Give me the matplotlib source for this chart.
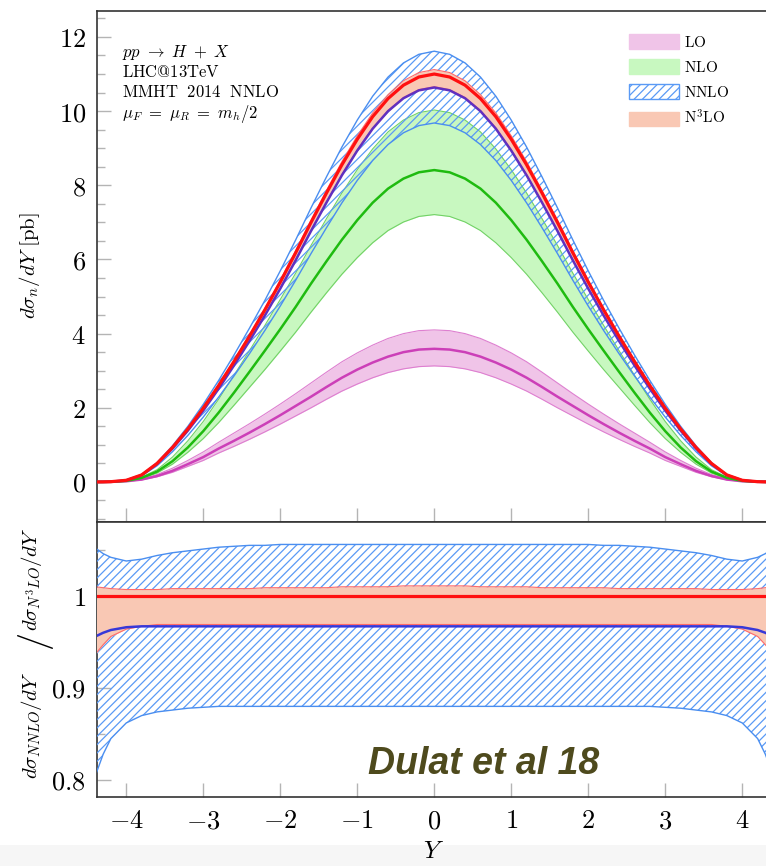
import numpy as np
import matplotlib
matplotlib.use("Agg")
import matplotlib.pyplot as plt
from matplotlib.patches import Patch, Rectangle
from matplotlib.ticker import MultipleLocator

plt.rcParams["mathtext.fontset"] = "cm"
plt.rcParams["font.family"] = "DejaVu Serif"
plt.rcParams["hatch.linewidth"] = 0.9

# ---------------------------------------------------------------- data
# Higgs rapidity
Y = [-4.4, -4.3, -4.2, -4.0, -3.8, -3.6, -3.4, -3.2, -3.0, -2.8, -2.6, -2.4,
     -2.2, -2.0, -1.8, -1.6, -1.4, -1.2, -1.0, -0.8, -0.6, -0.4, -0.2, 0.0,
     0.2, 0.4, 0.6, 0.8, 1.0, 1.2, 1.4, 1.6, 1.8, 2.0, 2.2, 2.4, 2.6, 2.8,
     3.0, 3.2, 3.4, 3.6, 3.8, 4.0, 4.2, 4.3, 4.4]

# dsigma/dY [pb]
lo_central = [0.0, 0.001, 0.003, 0.018, 0.065, 0.16, 0.30, 0.48, 0.67, 0.90, 1.11, 1.33,
              1.56, 1.80, 2.05, 2.30, 2.56, 2.81, 3.03, 3.22, 3.38, 3.50, 3.57, 3.59,
              3.57, 3.50, 3.38, 3.22, 3.03, 2.81, 2.56, 2.30, 2.05, 1.80, 1.56, 1.33,
              1.11, 0.90, 0.67, 0.48, 0.30, 0.16, 0.065, 0.018, 0.003, 0.001, 0.0]
lo_high = [0.0, 0.001, 0.004, 0.022, 0.08, 0.20, 0.37, 0.58, 0.81, 1.07, 1.32, 1.57,
           1.83, 2.10, 2.38, 2.67, 2.96, 3.24, 3.48, 3.69, 3.87, 4.00, 4.08, 4.10,
           4.08, 4.00, 3.87, 3.69, 3.48, 3.24, 2.96, 2.67, 2.38, 2.10, 1.83, 1.57,
           1.32, 1.07, 0.81, 0.58, 0.37, 0.20, 0.08, 0.022, 0.004, 0.001, 0.0]
lo_low = [0.0, 0.001, 0.003, 0.016, 0.056, 0.14, 0.26, 0.42, 0.58, 0.78, 0.96, 1.15,
          1.35, 1.56, 1.78, 2.00, 2.23, 2.45, 2.64, 2.81, 2.95, 3.05, 3.11, 3.13,
          3.11, 3.05, 2.95, 2.81, 2.64, 2.45, 2.23, 2.00, 1.78, 1.56, 1.35, 1.15,
          0.96, 0.78, 0.58, 0.42, 0.26, 0.14, 0.056, 0.016, 0.003, 0.001, 0.0]

nlo_central = [0.0, 0.002, 0.006, 0.03, 0.11, 0.28, 0.56, 0.93, 1.37, 1.87, 2.41, 2.97,
               3.54, 4.12, 4.72, 5.35, 5.95, 6.53, 7.06, 7.53, 7.91, 8.18, 8.35, 8.41,
               8.35, 8.18, 7.91, 7.53, 7.06, 6.53, 5.95, 5.35, 4.72, 4.12, 3.54, 2.97,
               2.41, 1.87, 1.37, 0.93, 0.56, 0.28, 0.11, 0.03, 0.006, 0.002, 0.0]
nlo_high = [0.0, 0.002, 0.007, 0.036, 0.13, 0.33, 0.67, 1.11, 1.63, 2.23, 2.88, 3.54,
            4.22, 4.92, 5.63, 6.38, 7.10, 7.79, 8.42, 8.98, 9.44, 9.76, 9.96, 10.03,
            9.96, 9.76, 9.44, 8.98, 8.42, 7.79, 7.10, 6.38, 5.63, 4.92, 4.22, 3.54,
            2.88, 2.23, 1.63, 1.11, 0.67, 0.33, 0.13, 0.036, 0.007, 0.002, 0.0]
nlo_low = [0.0, 0.002, 0.005, 0.026, 0.094, 0.24, 0.48, 0.80, 1.17, 1.60, 2.07, 2.55,
           3.03, 3.53, 4.04, 4.58, 5.10, 5.60, 6.05, 6.45, 6.78, 7.01, 7.16, 7.21,
           7.16, 7.01, 6.78, 6.45, 6.05, 5.60, 5.10, 4.58, 4.04, 3.53, 3.03, 2.55,
           2.07, 1.60, 1.17, 0.80, 0.48, 0.24, 0.094, 0.026, 0.005, 0.002, 0.0]

n3lo_central = [0.0, 0.002, 0.007, 0.045, 0.19, 0.50, 0.93, 1.43, 1.99, 2.60, 3.25, 3.93,
                4.64, 5.39, 6.18, 7.00, 7.79, 8.55, 9.24, 9.85, 10.34, 10.70, 10.92, 11.00,
                10.92, 10.70, 10.34, 9.85, 9.24, 8.55, 7.79, 7.00, 6.18, 5.39, 4.64, 3.93,
                3.25, 2.60, 1.99, 1.43, 0.93, 0.50, 0.19, 0.045, 0.007, 0.002, 0.0]

# ratios to the central N3LO prediction
nnlo_ratio_high = ([1.052, 1.046, 1.042, 1.038, 1.040, 1.044, 1.047, 1.049, 1.051, 1.053, 1.054, 1.055, 1.055]
                   + [1.056] * 21
                   + [1.055, 1.055, 1.054, 1.053, 1.051, 1.049, 1.047, 1.044, 1.040, 1.038, 1.042, 1.046, 1.052])
nnlo_ratio_central = ([0.956, 0.960, 0.963, 0.966]
                      + [0.967] * 39
                      + [0.966, 0.963, 0.960, 0.956])
nnlo_ratio_low = ([0.805, 0.828, 0.845, 0.862, 0.870, 0.874, 0.876, 0.878, 0.879]
                  + [0.880] * 29
                  + [0.879, 0.878, 0.876, 0.874, 0.870, 0.862, 0.845, 0.828, 0.805])
n3lo_ratio_high = [1.010, 1.009, 1.008, 1.007, 1.007, 1.007, 1.008, 1.008, 1.008, 1.008, 1.008, 1.008,
                   1.009, 1.009, 1.009, 1.009, 1.009, 1.010, 1.010, 1.010, 1.010, 1.011, 1.011, 1.011,
                   1.011, 1.011, 1.010, 1.010, 1.010, 1.010, 1.009, 1.009, 1.009, 1.009, 1.009, 1.008,
                   1.008, 1.008, 1.008, 1.008, 1.008, 1.007, 1.007, 1.007, 1.008, 1.009, 1.010]
n3lo_ratio_low = ([0.937, 0.947, 0.956, 0.964, 0.967]
                  + [0.969] * 37
                  + [0.967, 0.964, 0.956, 0.947, 0.937])

x_ticks = [-4, -3, -2, -1, 0, 1, 2, 3, 4]
x_tick_labels = ["$-4$", "$-3$", "$-2$", "$-1$", "$0$", "$1$", "$2$", "$3$", "$4$"]
top_y_ticks = [0, 2, 4, 6, 8, 10, 12]
top_y_tick_labels = ["$0$", "$2$", "$4$", "$6$", "$8$", "$10$", "$12$"]
bottom_y_ticks = [0.8, 0.9, 1.0]
bottom_y_tick_labels = ["$0.8$", "$0.9$", "$1$"]

info_lines = [r"$pp\ \rightarrow\ H\ +\ X$",
              r"$\mathrm{LHC@13TeV}$",
              r"$\mathrm{MMHT\ \ 2014\ \ NNLO}$",
              r"$\mu_F\ =\ \mu_R\ =\ m_h/2$"]
legend_labels = [r"$\mathrm{LO}$", r"$\mathrm{NLO}$", r"$\mathrm{NNLO}$",
                 r"$\mathrm{N}^{3}\mathrm{LO}$"]

# ---------------------------------------------------------------- arrays
y = np.array(Y)
n3c = np.array(n3lo_central)
nnlo_central = np.array(nnlo_ratio_central) * n3c
nnlo_high = np.array(nnlo_ratio_high) * n3c
nnlo_low = np.array(nnlo_ratio_low) * n3c
n3lo_high = np.array(n3lo_ratio_high) * n3c
n3lo_low = np.array(n3lo_ratio_low) * n3c
n3lo_ratio_central = np.ones_like(y)

# ---------------------------------------------------------------- style
C_LO_FILL, C_LO_LINE, C_LO_EDGE = "#f0c4e8", "#cc3fb8", "#de7fd0"
C_NLO_FILL, C_NLO_LINE, C_NLO_EDGE = "#c8f8c0", "#1fbb10", "#72d266"
C_NNLO_HATCH, C_NNLO_EDGE = "#5a9af5", "#4a8ef0"
C_NNLO_LINE_TOP, C_NNLO_LINE_BOT = "#6030c0", "#3838d8"
C_N3LO_FILL, C_N3LO_LINE, C_N3LO_EDGE = "#f9c8b4", "#ff1010", "#ff6a6a"
SPINE = "#333333"
TICK = "#b4b4b4"
HATCH = "////"

fig = plt.figure(figsize=(7.66, 8.66), dpi=100)
fig.add_artist(Rectangle((0, 0), 1, 21 / 866, transform=fig.transFigure,
                         facecolor="#f6f6f6", edgecolor="none", zorder=0))

left = 97 / 766
width = 674.5 / 766
ax1 = fig.add_axes([left, 1 - 522 / 866, width, 511 / 866])
ax2 = fig.add_axes([left, 1 - 797 / 866, width, 275 / 866])

for ax in (ax1, ax2):
    ax.set_xlim(-4.38, 4.38)
    for s in ax.spines.values():
        s.set_color(SPINE)
        s.set_linewidth(1.2)
    ax.tick_params(which="both", direction="in", color=TICK, width=1,
                   top=False, right=False)
    ax.tick_params(which="major", length=10, labelsize=19, pad=8)
    ax.tick_params(which="minor", length=6)
    ax.set_xticks(x_ticks)

# ---------------------------------------------------------------- top panel
ax1.set_ylim(-1.08, 12.70)
ax1.set_yticks(top_y_ticks, labels=top_y_tick_labels)
ax1.yaxis.set_minor_locator(MultipleLocator(0.5))
ax1.tick_params(axis="x", labelbottom=False)

ax1.fill_between(y, lo_low, lo_high, color=C_LO_FILL, lw=0, zorder=1)
ax1.plot(y, lo_low, color=C_LO_EDGE, lw=0.8, zorder=1.1)
ax1.plot(y, lo_high, color=C_LO_EDGE, lw=0.8, zorder=1.1)

ax1.fill_between(y, nlo_low, nlo_high, color=C_NLO_FILL, lw=0, zorder=2)
ax1.plot(y, nlo_low, color=C_NLO_EDGE, lw=0.8, zorder=2.1)
ax1.plot(y, nlo_high, color=C_NLO_EDGE, lw=0.8, zorder=2.1)

ax1.fill_between(y, nnlo_low, nnlo_high, facecolor="none", edgecolor=C_NNLO_HATCH,
                 hatch=HATCH, lw=0, zorder=3)

ax1.fill_between(y, n3lo_low, n3lo_high, color=C_N3LO_FILL, lw=0, zorder=4)
ax1.plot(y, n3lo_low, color=C_N3LO_EDGE, lw=0.8, zorder=4.1)
ax1.plot(y, n3lo_high, color=C_N3LO_EDGE, lw=0.8, zorder=4.1)

ax1.plot(y, nnlo_low, color=C_NNLO_EDGE, lw=1.0, zorder=4.2)
ax1.plot(y, nnlo_high, color=C_NNLO_EDGE, lw=1.0, zorder=4.2)

ax1.plot(y, lo_central, color=C_LO_LINE, lw=1.8, zorder=5)
ax1.plot(y, nlo_central, color=C_NLO_LINE, lw=1.8, zorder=5)
ax1.plot(y, nnlo_central, color=C_NNLO_LINE_TOP, lw=1.8, zorder=5)
ax1.plot(y, n3c, color=C_N3LO_LINE, lw=2.3, zorder=5.1)

for i, line in enumerate(info_lines):
    ax1.text(0.037, 0.910 - i * 0.0395, line, transform=ax1.transAxes,
             fontsize=12, va="baseline", ha="left")

handles = [Patch(facecolor=C_LO_FILL, edgecolor=C_LO_FILL),
           Patch(facecolor=C_NLO_FILL, edgecolor=C_NLO_FILL),
           Patch(facecolor="white", edgecolor=C_NNLO_HATCH, hatch=HATCH, lw=1.0),
           Patch(facecolor=C_N3LO_FILL, edgecolor=C_N3LO_FILL)]
ax1.legend(handles, legend_labels, loc="upper left", bbox_to_anchor=(0.788, 0.955),
           frameon=False, fontsize=11, handlelength=3.3, handleheight=1.1,
           labelspacing=0.62, handletextpad=0.35, borderpad=0, borderaxespad=0)

# ---------------------------------------------------------------- ratio panel
ax2.set_ylim(0.7815, 1.0804)
ax2.set_yticks(bottom_y_ticks, labels=bottom_y_tick_labels)
ax2.yaxis.set_minor_locator(MultipleLocator(0.05))
ax2.set_xticks(x_ticks, labels=x_tick_labels)

ax2.fill_between(y, nnlo_ratio_low, nnlo_ratio_high, facecolor="none",
                 edgecolor=C_NNLO_HATCH, hatch=HATCH, lw=0, zorder=3)
ax2.fill_between(y, n3lo_ratio_low, n3lo_ratio_high, color=C_N3LO_FILL, lw=0, zorder=4)
ax2.plot(y, n3lo_ratio_low, color=C_N3LO_EDGE, lw=0.8, zorder=4.1)
ax2.plot(y, n3lo_ratio_high, color=C_N3LO_EDGE, lw=0.8, zorder=4.1)
ax2.plot(y, nnlo_ratio_low, color=C_NNLO_EDGE, lw=1.0, zorder=4.2)
ax2.plot(y, nnlo_ratio_high, color=C_NNLO_EDGE, lw=1.0, zorder=4.2)
ax2.plot(y, nnlo_ratio_central, color=C_NNLO_LINE_BOT, lw=1.8, zorder=5)
ax2.plot(y, n3lo_ratio_central, color=C_N3LO_LINE, lw=2.3, zorder=5.1)

fig.text(368 / 766, 1 - 774 / 866, "Dulat et al 18", fontsize=27,
         family="Liberation Sans", weight="bold", style="italic",
         color="#4e4a1d", ha="left", va="baseline")

# ---------------------------------------------------------------- axis titles
fig.text(30 / 766, 1 - 266 / 866, r"$d\sigma_n/dY\ [\mathrm{pb}]$", rotation=90,
         fontsize=15, ha="center", va="center")
# ratio title: numerator, large slash, denominator stacked along the axis
fig.text(31 / 766, 1 - 725 / 866, r"$d\sigma_{NNLO}/dY$", rotation=90,
         fontsize=15, ha="center", va="center")
fig.text(36 / 766, 1 - 642 / 866, r"$/$", rotation=90,
         fontsize=26, ha="center", va="center")
fig.text(31 / 766, 1 - 579 / 866, r"$d\sigma_{N^3LO}/dY$", rotation=90,
         fontsize=15, ha="center", va="center")
fig.text(434 / 766, 1 - 852 / 866, r"$Y$", fontsize=18, ha="center", va="center")

fig.savefig("out.png", dpi=100)
